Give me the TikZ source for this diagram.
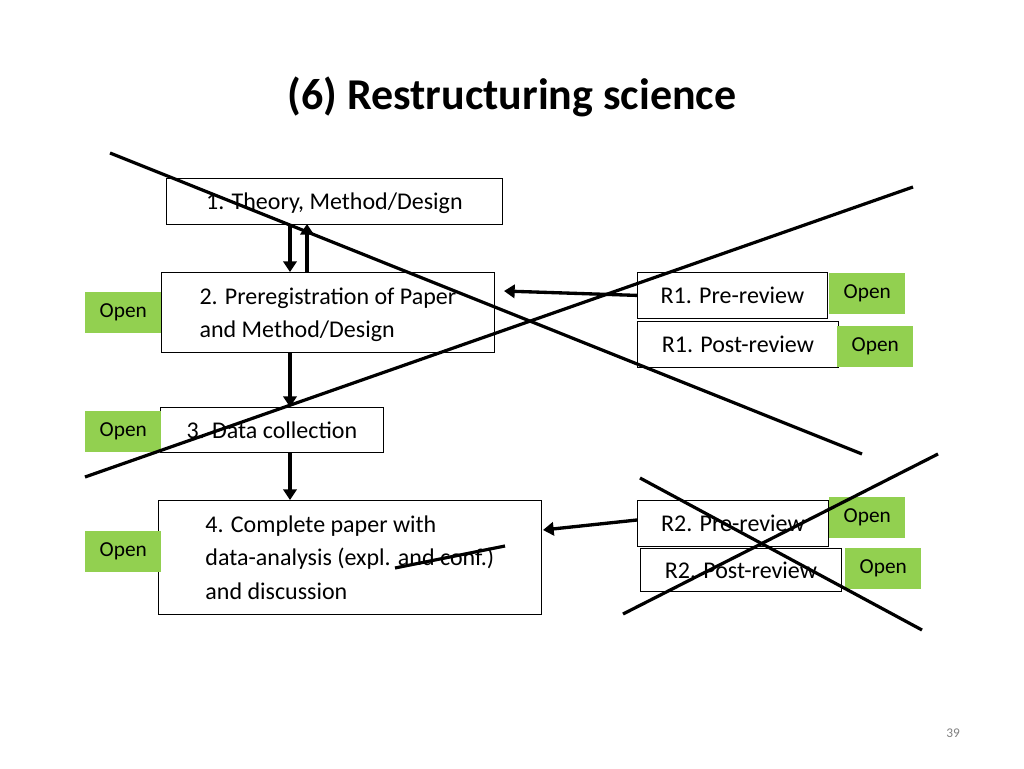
\documentclass[tikz,border=0pt]{standalone}
\usepackage{fontspec}
\setmainfont{Carlito}
\usetikzlibrary{arrows.meta}
\begin{document}
\begin{tikzpicture}[x=0.75pt,y=-0.75pt,
 box/.style={draw,line width=0.6pt,anchor=north west,inner xsep=8pt,inner ysep=2pt,align=left,font=\fontsize{18}{25}\selectfont,text depth=0pt},
 open/.style={fill=green!55!lime!70!black!80,fill=opengreen,anchor=north west,font=\fontsize{16}{18}\selectfont,inner sep=0pt},
 arr/.style={line width=2.5pt,-{Triangle[length=8pt,width=10pt]}},
 cross/.style={line width=2.4pt}]
\definecolor{opengreen}{HTML}{92D050}
\useasboundingbox (0,0) rectangle (1024,768);
\node[font=\bfseries\fontsize{33}{38}\selectfont] (title) at (512,97) {(6) Restructuring science};
\node[box,minimum width=336*0.75pt,minimum height=46*0.75pt] (b1) at (166,178) {1. Theory, Method/Design};
\node[box,minimum width=333*0.75pt,minimum height=80*0.75pt] (b2) at (161,272) {2. Preregistration of Paper\\and Method/Design};
\node[box,minimum width=223*0.75pt,minimum height=45*0.75pt] (b3) at (160,407) {3. Data collection};
\node[box,minimum width=383*0.75pt,minimum height=114*0.75pt] (b4) at (158,500) {4. Complete paper with\\data-analysis (expl. and conf.)\\and discussion};
\node[box,minimum width=190*0.75pt,minimum height=46*0.75pt] (r1a) at (637,272) {R1. Pre-review};
\node[box,minimum width=201*0.75pt,minimum height=46*0.75pt] (r1b) at (637,321) {R1. Post-review};
\node[box,minimum width=191*0.75pt,minimum height=46*0.75pt] (r2a) at (637,500) {R2. Pre-review};
\node[box,minimum width=201*0.75pt,minimum height=43*0.75pt] (r2b) at (640,548) {R2. Post-review};
\foreach \n/\x/\y in {o1/829/273,o2/837/326,o3/85/292,o4/85/411,o5/829/497,o6/845/548,o7/85/531}
  \node[open,minimum width=76*0.75pt,minimum height=41*0.75pt] (\n) at (\x,\y) {Open};
\coordinate (a1s) at (290,224); \coordinate (a1e) at (290,272);
\draw[arr] (a1s) -- (a1e);
\coordinate (a2s) at (307,272); \coordinate (a2e) at (307,224);
\draw[arr] (a2s) -- (a2e);
\draw[arr] (b2.south -| a1s) -- (b3.north -| a1s);
\draw[arr] (b3.south -| a1s) -- (b4.north -| a1s);
\draw[arr] (r1a.west) -- (504,291);
\draw[arr] (637,520) -- (543,530);
\coordinate (c1) at (110,153); \coordinate (c2) at (862,454);
\coordinate (c3) at (85,477); \coordinate (c4) at (913,187);
\coordinate (c5) at (640,478); \coordinate (c6) at (922,630);
\coordinate (c7) at (623,614); \coordinate (c8) at (938,454);
\coordinate (s1) at (395,568); \coordinate (s2) at (505,546);
\draw[cross] (c1)--(c2); \draw[cross] (c3)--(c4);
\draw[cross] (c5)--(c6); \draw[cross] (c7)--(c8);
\draw[cross] (s1)--(s2);
\node[text=gray,font=\fontsize{10}{12}\selectfont] (pg) at (953,733) {39};
\end{tikzpicture}
\end{document}
